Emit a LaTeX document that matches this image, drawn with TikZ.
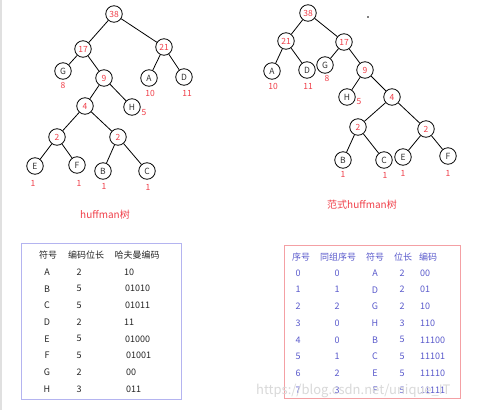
\documentclass[tikz,border=0pt]{standalone}
\usepackage{fontspec}
\setmainfont{Noto Sans CJK SC}
\definecolor{hred}{HTML}{F0404A}
\definecolor{tblue}{HTML}{5A5ACC}
\definecolor{lav}{HTML}{B4B4F0}
\definecolor{pinkb}{HTML}{F4A0A4}
\begin{document}
\begin{tikzpicture}[x=1pt,y=-1pt,
  nd/.style={circle,draw,thick,minimum size=16.5pt,inner sep=0pt,font=\fontsize{8.5}{8.5}\selectfont},
  inn/.style={nd,text=hred},
  lf/.style={nd,text=black!80},
  wt/.style={text=hred,font=\fontsize{8.5}{8.5}\selectfont,inner sep=0pt},
  edge/.style={thick,black},
  tl/.style={font=\fontsize{9}{9}\selectfont,inner sep=0pt,text=black!85},
  tr/.style={font=\fontsize{9}{9}\selectfont,inner sep=0pt,text=tblue}]
\useasboundingbox (0,0) rectangle (482,410);
\fill[white] (0,0) rectangle (482,410);
\fill[black!12] (0,0) rectangle (2,410);
% ---------- left tree ----------
\node[inn] (L38) at (114,14) {38};
\node[inn] (L17) at (83,49) {17};
\node[inn] (L21) at (164,47) {21};
\node[lf] (LG) at (63,71) {G};
\node[inn] (L9) at (104,78) {9};
\node[lf] (LA) at (149,78) {A};
\node[lf] (LD) at (184,77) {D};
\node[inn] (L4) at (85,106) {4};
\node[lf] (LH) at (132,107) {H};
\node[inn] (L2a) at (57,137) {2};
\node[inn] (L2b) at (118,137) {2};
\node[lf] (LE) at (35,166) {E};
\node[lf] (LF) at (77,165) {F};
\node[lf] (LB) at (103,171) {B};
\node[lf] (LC) at (147,171) {C};
\foreach \a/\b in {L38/L17,L38/L21,L17/LG,L17/L9,L21/LA,L21/LD,L9/L4,L9/LH,L4/L2a,L4/L2b,L2a/LE,L2a/LF,L2b/LB,L2b/LC}
  \draw[edge] (\a) -- (\b);
\node[wt] (wLG) at (63,85) {8};
\node[wt] (wLA) at (150,93) {10};
\node[wt] (wLD) at (187,93) {11};
\node[wt] (wLH) at (144,113) {5};
\node[wt] (wLE) at (33,183) {1};
\node[wt] (wLF) at (79,183) {1};
\node[wt] (wLB) at (104,186) {1};
\node[wt] (wLC) at (148,187) {1};
% ---------- right tree ----------
\node[inn] (R38) at (308,13) {38};
\node[inn] (R21) at (286,41) {21};
\node[inn] (R17) at (344,42) {17};
\node[lf] (RA) at (272,71) {A};
\node[lf] (RD) at (307,70) {D};
\node[lf] (RG) at (325,65) {G};
\node[inn] (R9) at (365,70) {9};
\node[lf] (RH) at (347,97) {H};
\node[inn] (R4) at (392,97) {4};
\node[inn] (R2a) at (358,127) {2};
\node[inn] (R2b) at (426,129) {2};
\node[lf] (RB) at (343,160) {B};
\node[lf] (RC) at (384,160) {C};
\node[lf] (RE) at (403,157) {E};
\node[lf] (RF) at (448,156) {F};
\foreach \a/\b in {R38/R21,R38/R17,R21/RA,R21/RD,R17/RG,R17/R9,R9/RH,R9/R4,R4/R2a,R4/R2b,R2a/RB,R2a/RC,R2b/RE,R2b/RF}
  \draw[edge] (\a) -- (\b);
\node[wt] (wRA) at (273,86) {10};
\node[wt] (wRD) at (308,86) {11};
\node[wt] (wRG) at (327,78) {8};
\node[wt] (wRH) at (359,102) {5};
\node[wt] (wRB) at (343,174) {1};
\node[wt] (wRC) at (385,175) {1};
\node[wt] (wRE) at (403,173) {1};
\node[wt] (wRF) at (448,173) {1};
\fill (368,17) circle (0.8);
% ---------- titles ----------
\node[text=hred,font=\fontsize{10}{10}\selectfont,inner sep=0pt] (t1) at (105,215) {huffman树};
\node[text=hred,font=\fontsize{10}{10}\selectfont,inner sep=0pt] (t2) at (362,205) {范式huffman树};
% ---------- left table ----------
\draw[lav,thick] (21,243) rectangle (181,399);
\node[tl] (h1) at (48,255) {符号};
\node[tl] (h2) at (86,255) {编码位长};
\node[tl] (h3) at (137,255) {哈夫曼编码};
\foreach \s/\l/\c/\cx [count=\i from 0] in {A/2/10/124,B/5/01010/125,C/5/01011/125,D/2/11/124,E/5/01000/125,F/5/01001/126,G/2/00/126,H/3/011/126}{
  \node[tl] (ls\i) at (47,272+16.7*\i) {\s};
  \node[tl] (ll\i) at (79,272+16.7*\i) {\l};
  \node[tl,anchor=west] (lc\i) at (\cx,272+16.7*\i) {\c};
}
% ---------- right table ----------
\draw[pinkb,thick] (284,245) rectangle (460,398);
\node[tr] (g1) at (301,257) {序号};
\node[tr] (g2) at (338,257) {同组序号};
\node[tr] (g3) at (375,257) {符号};
\node[tr] (g4) at (403,257) {位长};
\node[tr] (g5) at (428,257) {编码};
\foreach \n/\m/\s/\l/\c [count=\i from 0] in {0/0/A/2/00,1/1/D/2/01,2/2/G/2/10,3/0/H/3/110,4/0/B/5/11100,5/1/C/5/11101,6/2/E/5/11110,7/3/F/5/11111}{
  \node[tr] (rn\i) at (298,273+16.7*\i) {\n};
  \node[tr] (rm\i) at (337,273+16.7*\i) {\m};
  \node[tr] (rs\i) at (375,273+16.7*\i) {\s};
  \node[tr] (rl\i) at (402,273+16.7*\i) {\l};
  \node[tr,anchor=west] (rc\i) at (420,273+16.7*\i) {\c};
}
% watermark
\node[text=black!15,font=\fontsize{13}{13}\selectfont,inner sep=0pt,anchor=west] (wm) at (256,391) {https://blog.csdn.net/unique\_IT};
\end{tikzpicture}
\end{document}
